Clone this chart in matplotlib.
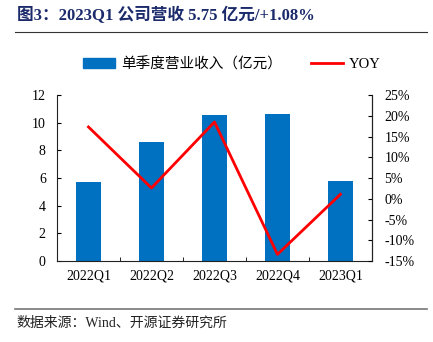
import matplotlib
matplotlib.use("Agg")
import matplotlib.pyplot as plt
from matplotlib.lines import Line2D
from matplotlib.patches import Patch

plt.rcParams['font.family'] = ['Liberation Serif', 'Noto Sans CJK SC']

quarters = ["2022Q1", "2022Q2", "2022Q3", "2022Q4", "2023Q1"]
revenue = [5.72, 8.62, 10.58, 10.65, 5.75]     # 亿元
yoy = [17.3, 2.6, 18.5, -13.4, 1.08]           # %

fig = plt.figure(figsize=(4.33, 3.42), dpi=100)
ax = fig.add_axes([0.1316, 0.2368, 0.7274, 0.4854])
ax2 = ax.twinx()

x = list(range(len(quarters)))
ax.bar(x, revenue, width=0.4, color="#0070C0", zorder=2)
ax2.plot(x, yoy, color="#FF0000", lw=2, zorder=3)

ax.set_xlim(-0.5, 4.5)
ax.set_ylim(0, 12)
ax.set_yticks(range(0, 13, 2))
ax2.set_ylim(-15, 25)
ax2.set_yticks(range(-15, 26, 5))
ax2.set_yticklabels([f"{v}%" for v in range(-15, 26, 5)])

ax.set_xticks(x)
ax.set_xticklabels(quarters)
ax.set_xticks([i + 0.5 for i in range(-1, 5)], minor=True)
ax.tick_params(axis="x", which="major", length=0, pad=6, labelsize=10)
ax.tick_params(axis="x", which="minor", direction="in", length=3)
ax.tick_params(axis="y", direction="in", length=3, pad=8, labelsize=10)
ax2.tick_params(axis="y", direction="in", length=3, pad=9, labelsize=10)

for a in (ax, ax2):
    a.spines["top"].set_visible(False)
    for s in a.spines.values():
        s.set_color("#222222")
        s.set_linewidth(0.8)
ax2.spines["left"].set_visible(False)
ax2.spines["bottom"].set_visible(False)

handles = [Patch(color="#0070C0"), Line2D([], [], color="#FF0000", lw=2)]
fig.legend(handles, ["单季度营业收入（亿元）", "YOY"], loc="center",
           bbox_to_anchor=(0.535, 0.813), ncol=2, frameon=False, fontsize=10.5,
           handlelength=2.2, handleheight=0.6, columnspacing=2.0, handletextpad=0.4)

fig.text(0.04, 0.955, "图3：2023Q1 公司营收 5.75 亿元/+1.08%", fontsize=12,
         fontweight="bold", color="#1B2A6B", va="center")
fig.add_artist(Line2D([0.035, 0.985], [0.905, 0.905], color="#333333", lw=0.8))
fig.add_artist(Line2D([0.035, 0.985], [0.097, 0.097], color="#777777", lw=1.2))
fig.text(0.038, 0.055, "数据来源：Wind、开源证券研究所", fontsize=10, color="#222222",
         va="center")

fig.savefig("out.png", dpi=100)
